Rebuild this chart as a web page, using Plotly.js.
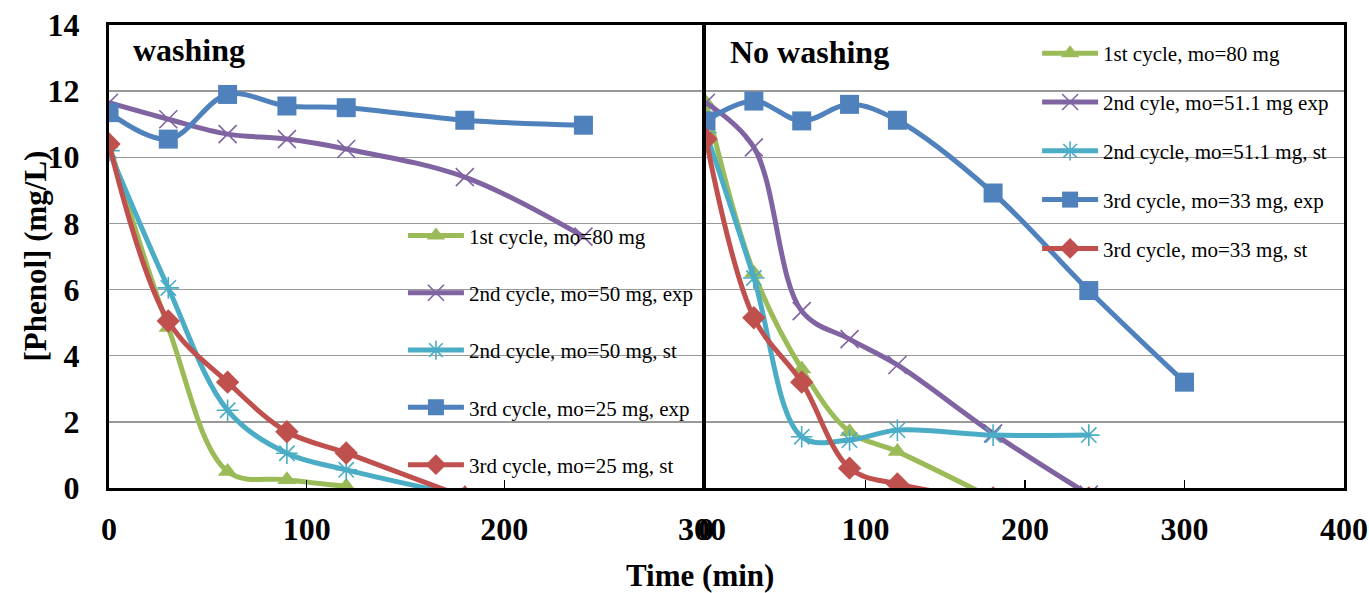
<!DOCTYPE html>
<html>
<head>
<meta charset="utf-8">
<script src="https://cdn.plot.ly/plotly-3.0.1.min.js"></script>
<style>html,body{margin:0;padding:0;background:#fff;}#chart{width:1369px;height:593px;}</style>
</head>
<body>
<div id="chart"></div>
<script>
// ---- Data: washing panel ----
const washNames = ["1st cycle, mo=80 mg", "2nd cycle, mo=50 mg, exp", "2nd cycle, mo=50 mg, st", "3rd cycle, mo=25 mg, exp", "3rd cycle, mo=25 mg, st"];
const wash1T = [0, 30, 60, 90, 120];
const wash1Y = [10.4, 4.85, 0.5, 0.25, 0.05];
const wash2ExpT = [0, 30, 60, 90, 120, 180, 240];
const wash2ExpY = [11.65, 11.15, 10.7, 10.55, 10.25, 9.4, 7.6];
const wash2StT = [0, 30, 60, 90, 120, 180];
const wash2StY = [10.2, 6.05, 2.35, 1.05, 0.55, -0.25];
const wash3ExpT = [0, 30, 60, 90, 120, 180, 240];
const wash3ExpY = [11.35, 10.55, 11.9, 11.55, 11.5, 11.12, 10.97];
const wash3StT = [0, 30, 60, 90, 120, 180];
const wash3StY = [10.4, 5.05, 3.2, 1.7, 1.06, -0.28];

// ---- Data: no washing panel ----
const noWashNames = ["1st cycle, mo=80 mg", "2nd cyle, mo=51.1 mg exp", "2nd cycle, mo=51.1 mg, st", "3rd cycle, mo=33 mg, exp", "3rd cycle, mo=33 mg, st"];
const noWash1T = [0, 30, 60, 90, 120, 180];
const noWash1Y = [11.65, 6.5, 3.6, 1.7, 1.1, -0.32];
const noWash2ExpT = [0, 30, 60, 90, 120, 180, 240];
const noWash2ExpY = [11.65, 10.3, 5.35, 4.5, 3.72, 1.65, -0.2];
const noWash2StT = [0, 30, 60, 90, 120, 180, 240];
const noWash2StY = [10.75, 6.35, 1.55, 1.45, 1.75, 1.6, 1.6];
const noWash3ExpT = [0, 30, 60, 90, 120, 180, 240, 300];
const noWash3ExpY = [11.1, 11.7, 11.1, 11.6, 11.12, 8.92, 5.97, 3.2];
const noWash3StT = [0, 30, 60, 90, 120, 180, 240];
const noWash3StY = [10.55, 5.15, 3.2, 0.6, 0.12, -0.3, -0.3];

const yTickVals = [0, 2, 4, 6, 8, 10, 12, 14];
const xTickVals1 = [0, 100, 200, 300];
const xTickVals2 = [0, 100, 200, 300, 400];

// ---- Styles ----
const FONT = "Liberation Serif";
const C = {green: "#9BBB59", purple: "#8064A2", cyan: "#4BACC6", blue: "#4F81BD", red: "#C0504D"};
const styles = [
  {color: C.green, symbol: "triangle-up", size: 17, lw: 0},
  {color: C.purple, symbol: "x-thin-open", size: 18, lw: 1.6},
  {color: C.cyan, symbol: "asterisk-open", size: 18, lw: 1.6},
  {color: C.blue, symbol: "square", size: 19, lw: 0},
  {color: C.red, symbol: "diamond", size: 18, lw: 0}
];

function mk(x, y, name, st, xa, ya, leg, grp) {
  return {
    type: "scatter", mode: "lines+markers", x: x, y: y, name: name,
    xaxis: xa, yaxis: ya, legend: leg, legendgroup: grp,
    line: {color: st.color, width: 5, shape: "spline", smoothing: 1},
    marker: {color: st.color, symbol: st.symbol, size: st.size, line: {color: st.color, width: st.lw}},
    cliponaxis: true
  };
}

const washX = [wash1T, wash2ExpT, wash2StT, wash3ExpT, wash3StT];
const washY = [wash1Y, wash2ExpY, wash2StY, wash3ExpY, wash3StY];
const noX = [noWash1T, noWash2ExpT, noWash2StT, noWash3ExpT, noWash3StT];
const noY = [noWash1Y, noWash2ExpY, noWash2StY, noWash3ExpY, noWash3StY];

const traces = [];
for (let i = 0; i < 5; i++) traces.push(mk(washX[i], washY[i], washNames[i], styles[i], "x", "y", "legend", "w" + i));
for (let i = 0; i < 5; i++) traces.push(mk(noX[i], noY[i], noWashNames[i], styles[i], "x2", "y2", "legend2", "n" + i));

const tickFont = {family: FONT, size: 32, color: "#000", weight: "bold"};
const xBase = {
  ticks: "inside", ticklen: 8, tickwidth: 1.5, tickcolor: "#000",
  showline: true, linewidth: 3, linecolor: "#000", mirror: true,
  showgrid: false, zeroline: false, tickfont: tickFont, ticklabelstandoff: 11,
  tickmode: "array"
};
const yBase = {
  range: [0, 14], tickmode: "array", tickvals: yTickVals,
  showgrid: true, gridcolor: "#999", gridwidth: 1.5,
  showline: true, linewidth: 3, linecolor: "#000", mirror: true,
  ticks: "", zeroline: false, tickfont: tickFont, ticklabelstandoff: 20
};

const legBase = {
  font: {family: FONT, size: 21, color: "#000"},
  bgcolor: "rgba(0,0,0,0)", borderwidth: 0,
  xanchor: "left", yanchor: "top", traceorder: "grouped", itemwidth: 56
};

const layout = {
  width: 1369, height: 593,
  margin: {l: 109, r: 25, t: 25, b: 105},
  paper_bgcolor: "#fff", plot_bgcolor: "#fff",
  showlegend: true,
  xaxis: Object.assign({}, xBase, {domain: [0, 0.4802], range: [0, 300], tickvals: xTickVals1, anchor: "y"}),
  xaxis2: Object.assign({}, xBase, {domain: [0.4834, 1], range: [0, 400], tickvals: xTickVals2, anchor: "y2"}),
  yaxis: Object.assign({}, yBase, {anchor: "x"}),
  yaxis2: Object.assign({}, yBase, {anchor: "x2", showticklabels: false}),
  legend: Object.assign({}, legBase, {x: 0.238, y: 0.589, tracegroupgap: 27}),
  legend2: Object.assign({}, legBase, {x: 0.7515, y: 0.9826, tracegroupgap: 18.5}),
  annotations: [
    {text: "washing", xref: "paper", yref: "paper", x: 0.0178, y: 0.946, xanchor: "left", yanchor: "middle", showarrow: false, font: {family: FONT, size: 32, color: "#000", weight: "bold"}},
    {text: "No washing", xref: "paper", yref: "paper", x: 0.5012, y: 0.9417, xanchor: "left", yanchor: "middle", showarrow: false, font: {family: FONT, size: 32, color: "#000", weight: "bold"}},
    {text: "Time (min)", xref: "paper", yref: "paper", x: 0.4785, y: -0.188, xanchor: "center", yanchor: "middle", showarrow: false, font: {family: FONT, size: 31, color: "#000", weight: "bold"}},
    {text: "[Phenol] (mg/L)", xref: "paper", yref: "paper", x: -0.0599, y: 0.5, xanchor: "center", yanchor: "middle", textangle: -90, showarrow: false, font: {family: FONT, size: 31, color: "#000", weight: "bold"}}
  ]
};

Plotly.newPlot("chart", traces, layout, {displayModeBar: false, staticPlot: true});
</script>
</body>
</html>
